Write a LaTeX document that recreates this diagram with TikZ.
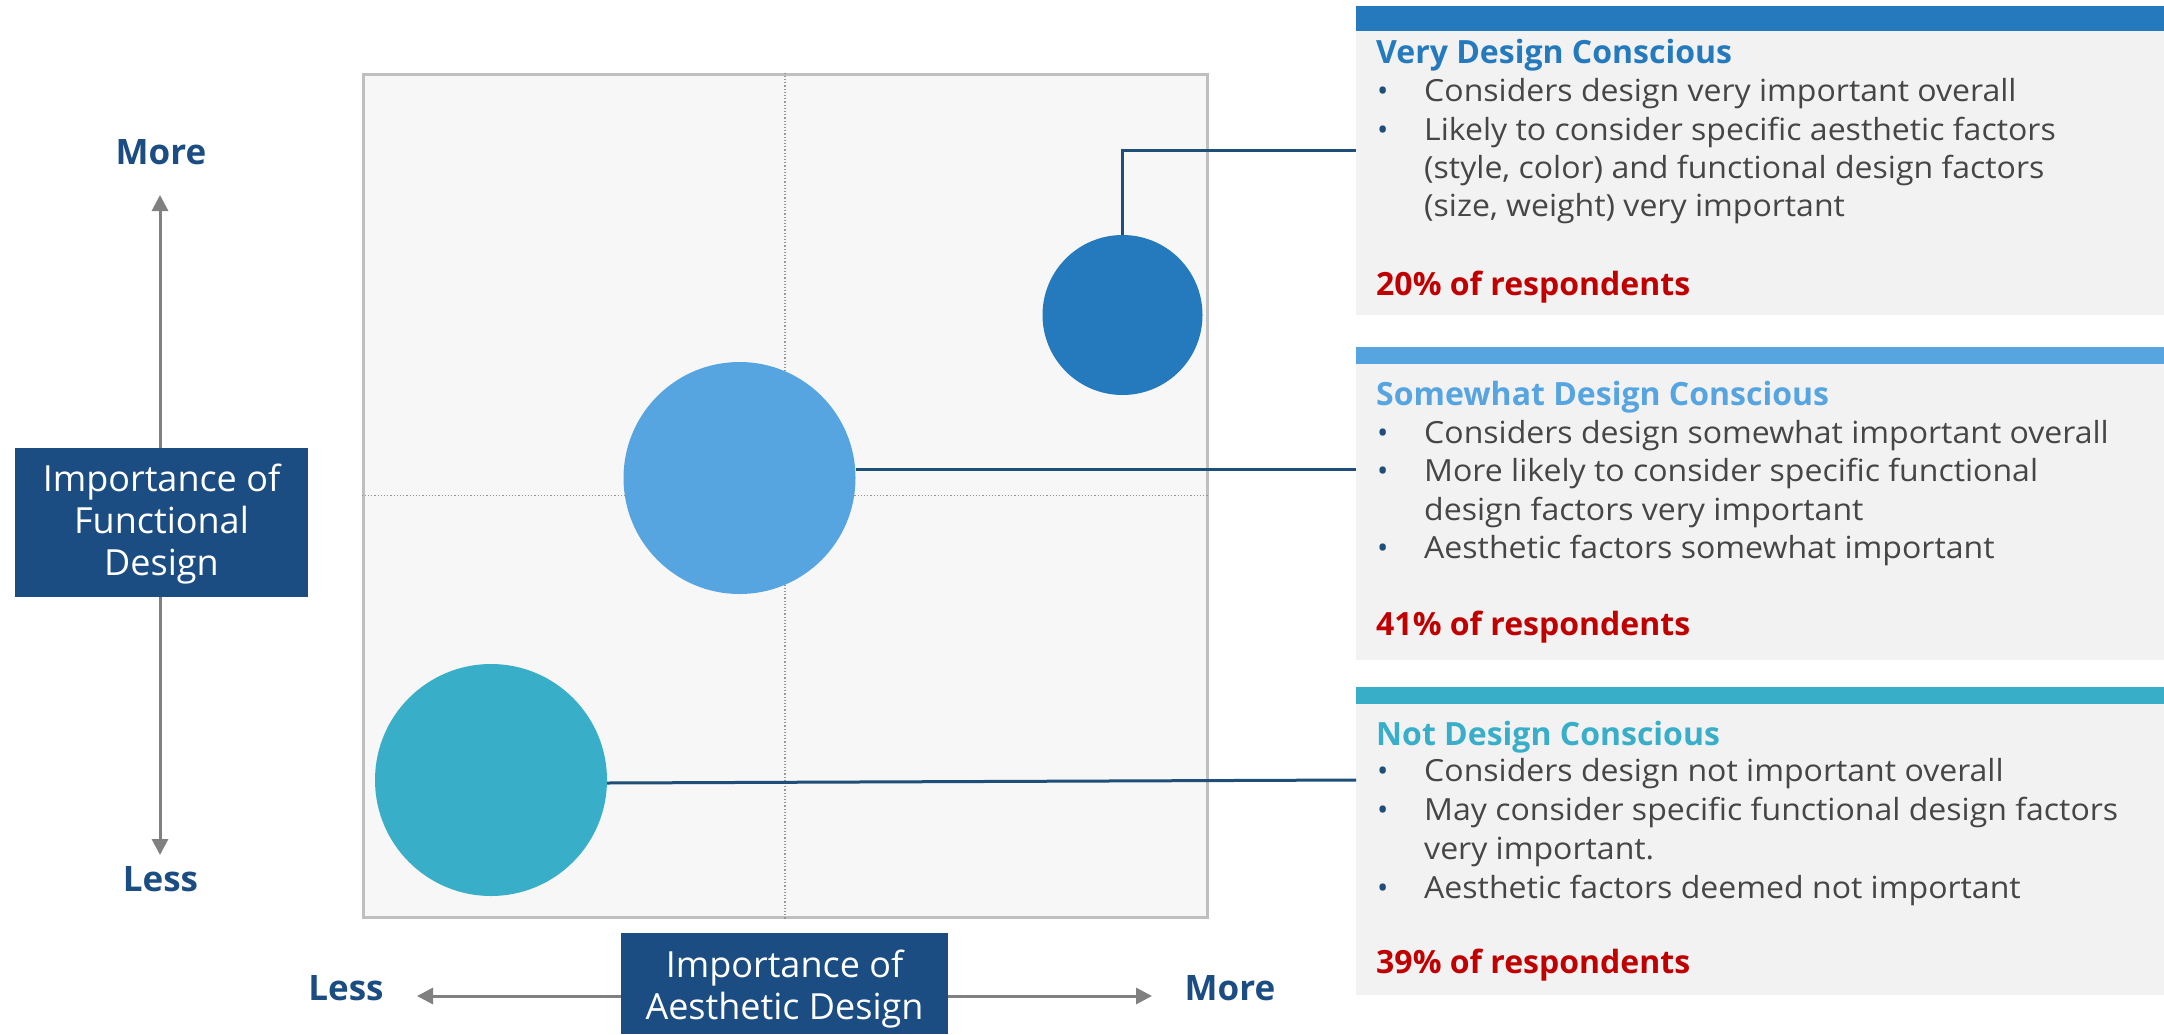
\documentclass[tikz,border=0pt]{standalone}
\usepackage{fontspec}
\setmainfont{Open Sans}
\newfontfamily\widesans{Open Sans}[FakeStretch=1.05]
\usetikzlibrary{arrows.meta}

\definecolor{navy}{RGB}{27,76,130}
\definecolor{linknavy}{RGB}{31,78,121}
\definecolor{arrowgray}{RGB}{128,128,128}
\definecolor{chartbg}{RGB}{247,247,247}
\definecolor{chartborder}{RGB}{191,191,191}
\definecolor{gridgray}{RGB}{150,150,150}
\definecolor{veryblue}{RGB}{36,122,189}
\definecolor{somewhatblue}{RGB}{86,165,224}
\definecolor{notteal}{RGB}{56,174,200}
\definecolor{panelbg}{RGB}{242,242,242}
\definecolor{bodytext}{RGB}{70,70,70}
\definecolor{pctred}{RGB}{192,0,0}

\newcommand\pxsize[1]{\fontsize{#1}{#1}\selectfont}

\tikzset{
  axisbox/.style={fill=navy, draw=none, inner sep=0pt},
  axistext/.style={text=white, font=\pxsize{36}, inner sep=0pt, anchor=base},
  endlabel/.style={text=navy, font=\bfseries\pxsize{35}, inner sep=0pt, anchor=base},
  axisarrow/.style={draw=arrowgray, line width=3pt, -{Triangle[length=16pt,width=16pt]}},
  bubble/.style={circle, draw=none, inner sep=0pt},
  link/.style={draw=linknavy, line width=3pt},
  grid/.style={draw=gridgray, line width=1.2pt, dash pattern=on 1.2pt off 2pt},
  panel/.style={fill=panelbg, minimum width=808pt, inner sep=0pt, anchor=north west},
  title/.style={font=\bfseries\pxsize{32}, inner sep=0pt, anchor=base west},
  bodyline/.style={text=bodytext, font=\widesans\pxsize{30.5}, inner sep=0pt, anchor=base west},
  dot/.style={text=linknavy, font=\pxsize{30}, inner sep=0pt, anchor=base west},
  pct/.style={text=pctred, font=\bfseries\pxsize{32}, inner sep=0pt, anchor=base west},
}

\begin{document}
\begin{tikzpicture}[x=1pt,y=-1pt]
\useasboundingbox (0,0) rectangle (2164,1034);

% ---------- chart area ----------
\node[fill=chartbg, draw=chartborder, line width=3pt, minimum width=844pt, minimum height=843pt, inner sep=0pt] (chart) at (785,495.5) {};
\draw[grid] (chart.north) -- (chart.south);
\draw[grid] (chart.west) -- (chart.east);

% ---------- bubbles ----------
\node[bubble, fill=veryblue, minimum size=160pt] (c1) at (1122.5,315) {};
\node[bubble, fill=somewhatblue, minimum size=232pt] (c2) at (739.5,478) {};
\node[bubble, fill=notteal, minimum size=232pt] (c3) at (491,780) {};

% ---------- vertical axis ----------
\node[axisbox, minimum width=293pt, minimum height=149pt] (fbox) at (161.5,522.5) {};
\node[axistext] (f1) at (161.5,491.7) {Importance of};
\node[axistext] (f2) at (161.5,533.5) {Functional};
\node[axistext] (f3) at (161.5,575.5) {Design};
\coordinate (vtop) at (160,195);
\coordinate (vbot) at (160,855);
\draw[axisarrow] (fbox.north -| vtop) -- (vtop);
\draw[axisarrow] (fbox.south -| vbot) -- (vbot);
\node[endlabel] (vmore) at (161,164.3) {More};
\node[endlabel] (vless) at (160.5,891.7) {Less};

% ---------- horizontal axis ----------
\node[axisbox, minimum width=327pt, minimum height=101pt] (abox) at (784.5,983.5) {};
\node[axistext] (a1) at (784.5,977) {Importance of};
\node[axistext] (a2) at (784.5,1019) {Aesthetic Design};
\coordinate (hleft) at (417,996);
\coordinate (hright) at (1152,996);
\draw[axisarrow] (abox.west |- hleft) -- (hleft);
\draw[axisarrow] (abox.east |- hright) -- (hright);
\node[endlabel] (hless) at (346,1000) {Less};
\node[endlabel] (hmore) at (1230,1000) {More};

% ---------- panels ----------
\fill[veryblue] (1356,6) rectangle (2164,31);
\node[panel, minimum height=284pt] (p1) at (1356,31) {};
\fill[somewhatblue] (1356,347) rectangle (2164,364);
\node[panel, minimum height=296pt] (p2) at (1356,364) {};
\fill[notteal] (1356,687) rectangle (2164,704);
\node[panel, minimum height=291pt] (p3) at (1356,704) {};

% ---------- connectors ----------
\coordinate (k1) at (1356,150);
\coordinate (k2) at (1356,469);
\coordinate (k3) at (1356,780);
\draw[link] (c1.north) |- (k1);
\draw[link] (c2.east |- k2) -- (k2);
\draw[link] ([yshift=-3pt]c3.east) -- (k3);

% panel 1 text
\node[title, text=veryblue] (t1) at (1376,63) {Very Design Conscious};
\node[dot] at (1377,101.7) {•};
\node[bodyline] at (1424,101.7) {Considers design very important overall};
\node[dot] at (1377,140) {•};
\node[bodyline] at (1424,140) {Likely to consider specific aesthetic factors};
\node[bodyline] at (1424,178.3) {(style, color) and functional design factors};
\node[bodyline] at (1424,216.7) {(size, weight) very important};
\node[pct] (r1) at (1376,295) {20\% of respondents};

% panel 2 text
\node[title, text=somewhatblue] (t2) at (1376,405) {Somewhat Design Conscious};
\node[dot] at (1377,443) {•};
\node[bodyline] at (1424,443) {Considers design somewhat important overall};
\node[dot] at (1377,481.7) {•};
\node[bodyline] at (1424,481.7) {More likely to consider specific functional};
\node[bodyline] at (1424,520) {design factors very important};
\node[dot] at (1377,558) {•};
\node[bodyline] at (1424,558) {Aesthetic factors somewhat important};
\node[pct] (r2) at (1376,635) {41\% of respondents};

% panel 3 text
\node[title, text=notteal] (t3) at (1376,745) {Not Design Conscious};
\node[dot] at (1377,781.7) {•};
\node[bodyline] at (1424,781.7) {Considers design not important overall};
\node[dot] at (1377,820) {•};
\node[bodyline] at (1424,820) {May consider specific functional design factors};
\node[bodyline] at (1424,859) {very important.};
\node[dot] at (1377,898) {•};
\node[bodyline] at (1424,898) {Aesthetic factors deemed not important};
\node[pct] (r3) at (1376,973) {39\% of respondents};
\end{tikzpicture}
\end{document}
